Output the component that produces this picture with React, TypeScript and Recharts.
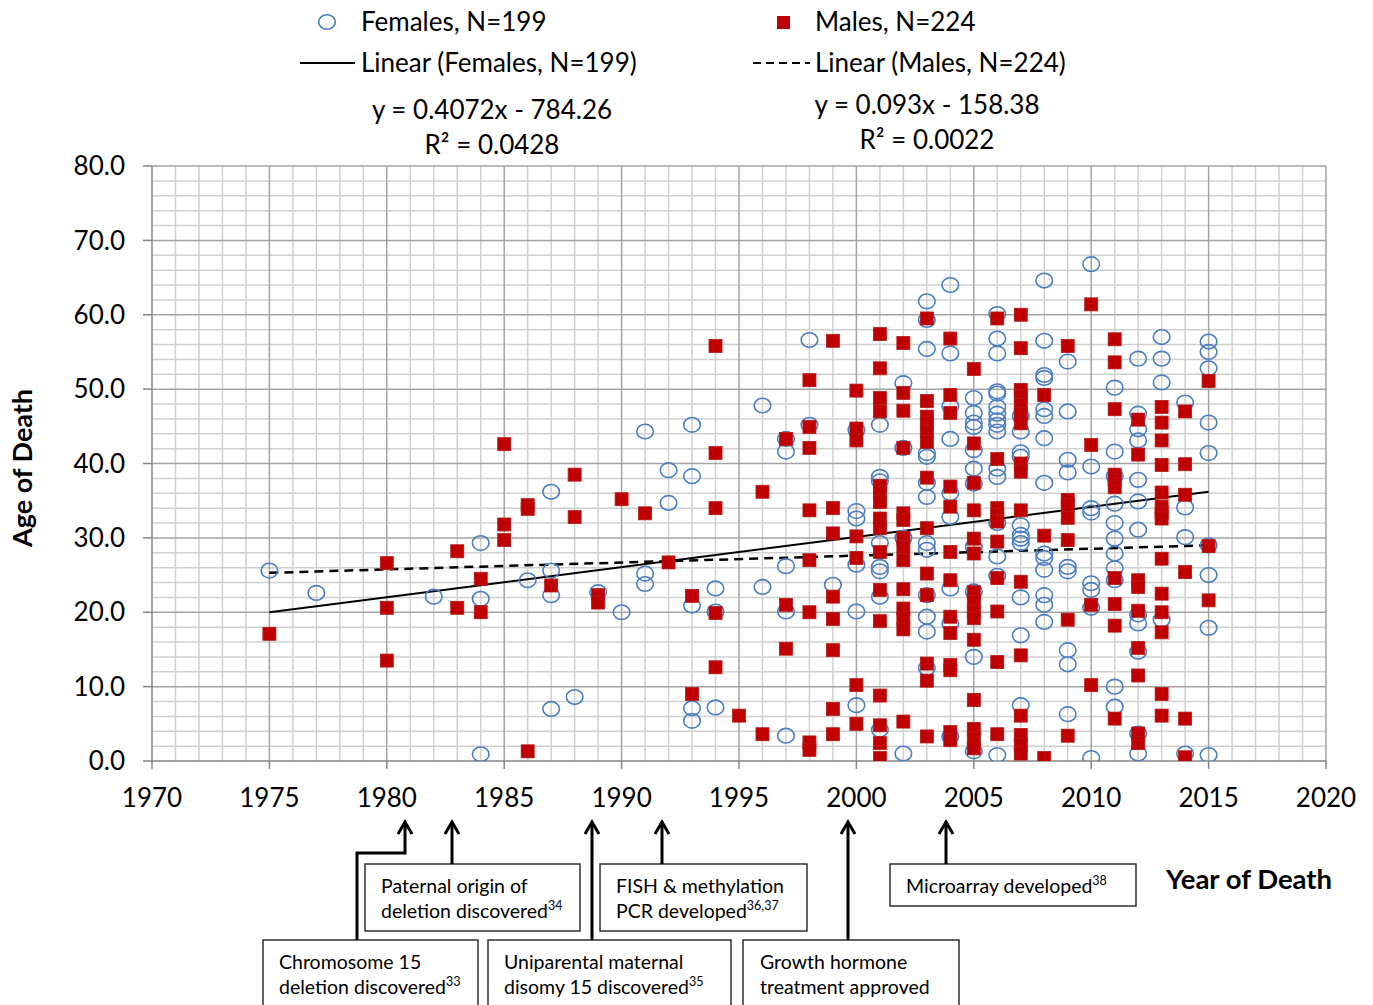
import React from 'react';
import { ScatterChart, Scatter, XAxis, YAxis, ReferenceLine } from 'recharts';

// ---------- data ----------
const xTicks = [1970, 1975, 1980, 1985, 1990, 1995, 2000, 2005, 2010, 2015, 2020];
const yTicks = [0, 10, 20, 30, 40, 50, 60, 70, 80];

const femaleAges: [number, number[]][] = [
  [1975, [25.6]],
  [1977, [22.6]],
  [1982, [22.1]],
  [1984, [29.3, 21.8, 0.9]],
  [1986, [24.3]],
  [1987, [36.2, 25.6, 22.3, 7.0]],
  [1988, [8.6]],
  [1989, [22.7]],
  [1990, [20.0]],
  [1991, [44.3, 25.2, 23.8]],
  [1992, [39.1, 34.7]],
  [1993, [45.2, 38.3, 20.9, 7.1, 5.4]],
  [1994, [23.2, 20.1, 7.2]],
  [1996, [47.8, 23.4]],
  [1997, [43.3, 41.6, 26.2, 20.1, 3.4]],
  [1998, [56.6, 45.2]],
  [1999, [23.7]],
  [2000, [44.5, 33.6, 32.6, 26.4, 20.1, 7.5]],
  [2001, [45.2, 38.2, 37.6, 29.3, 26.1, 25.5, 22.1, 4.2]],
  [2002, [50.8, 42.1, 30.0, 1.0]],
  [2003, [61.8, 59.3, 55.4, 41.4, 40.9, 37.4, 35.5, 29.3, 28.4, 22.3, 19.4, 17.4, 12.5]],
  [2004, [64.0, 54.8, 47.7, 43.3, 36.0, 32.8, 23.2, 18.5, 3.3]],
  [2005, [48.8, 46.8, 45.5, 44.9, 41.8, 39.3, 37.3, 28.8, 22.8, 14.0, 1.3]],
  [2006, [60.1, 56.8, 54.8, 49.7, 49.4, 47.6, 46.7, 45.8, 45.2, 44.3, 39.3, 38.2, 32.0, 27.5, 24.9, 0.8]],
  [2007, [46.4, 44.3, 41.5, 40.9, 31.7, 30.4, 29.9, 29.3, 22.0, 16.9, 7.5]],
  [2008, [64.6, 56.5, 51.9, 51.5, 47.3, 46.4, 43.4, 37.4, 27.9, 27.3, 25.7, 22.3, 21.0, 18.7]],
  [2009, [53.7, 47.0, 40.5, 38.8, 26.1, 25.5, 14.9, 13.0, 6.3]],
  [2010, [66.8, 39.6, 34.0, 33.4, 23.9, 23.0, 20.6, 0.4]],
  [2011, [50.2, 41.6, 38.3, 34.6, 32.0, 29.9, 27.9, 25.9, 24.3, 10.0, 7.3]],
  [2012, [54.1, 46.7, 44.6, 43.1, 37.8, 34.9, 31.1, 19.7, 18.5, 14.7, 3.7, 1.0]],
  [2013, [57.0, 54.1, 50.9, 19.0]],
  [2014, [48.2, 34.1, 30.1, 1.0]],
  [2015, [56.4, 55.0, 52.8, 45.5, 41.4, 29.0, 25.0, 17.9, 0.8]],
];

const maleAges: [number, number[]][] = [
  [1975, [17.1]],
  [1980, [26.6, 20.6, 13.5]],
  [1983, [28.2, 20.6]],
  [1984, [24.5, 20.0]],
  [1985, [42.6, 31.8, 29.7]],
  [1986, [34.4, 33.9, 1.3]],
  [1987, [23.6]],
  [1988, [38.5, 32.8]],
  [1989, [22.3, 21.3]],
  [1990, [35.2]],
  [1991, [33.3]],
  [1992, [26.7]],
  [1993, [22.2, 9.0]],
  [1994, [55.8, 41.4, 34.0, 19.9, 12.6]],
  [1995, [6.1]],
  [1996, [36.2, 3.6]],
  [1997, [43.3, 21.0, 15.1]],
  [1998, [51.2, 44.9, 42.1, 33.7, 27.0, 20.0, 2.5, 1.5]],
  [1999, [56.5, 34.0, 30.6, 22.1, 19.1, 14.9, 7.0, 3.6]],
  [2000, [49.8, 44.7, 43.1, 30.2, 27.3, 10.2, 5.0]],
  [2001, [57.4, 52.8, 48.8, 47.0, 37.0, 36.0, 34.8, 32.6, 31.3, 28.1, 23.0, 18.8, 8.8, 4.8, 2.4, 0.4]],
  [2002, [56.2, 49.5, 47.1, 42.1, 33.3, 32.4, 30.0, 28.8, 27.0, 23.1, 20.5, 19.2, 17.7, 5.3]],
  [2003, [59.5, 48.4, 46.3, 45.4, 44.3, 42.9, 38.1, 31.3, 25.2, 22.3, 13.1, 10.8, 3.3]],
  [2004, [56.8, 49.2, 46.8, 36.9, 34.2, 28.1, 24.3, 19.4, 17.2, 12.9, 12.2, 3.9, 2.8]],
  [2005, [52.7, 42.7, 37.4, 33.7, 29.9, 27.9, 22.7, 21.4, 20.1, 19.2, 16.3, 8.2, 4.3, 3.0, 1.7]],
  [2006, [59.5, 40.6, 34.0, 33.1, 32.2, 29.5, 24.6, 20.1, 13.3, 3.6]],
  [2007, [60.0, 55.5, 49.9, 49.0, 47.9, 46.7, 45.4, 40.0, 38.9, 33.7, 24.1, 14.2, 6.1, 3.5, 2.2, 1.0]],
  [2008, [49.2, 30.3, 0.4]],
  [2009, [55.8, 35.1, 34.4, 32.7, 29.7, 19.0, 3.4]],
  [2010, [61.4, 42.5, 21.0, 10.2]],
  [2011, [56.7, 53.6, 47.3, 38.5, 37.8, 36.8, 24.6, 21.1, 18.2, 5.7]],
  [2012, [45.9, 41.2, 24.3, 23.4, 20.2, 15.2, 11.5, 3.7, 2.4]],
  [2013, [47.6, 45.5, 43.1, 39.8, 36.1, 34.2, 33.4, 32.6, 27.2, 22.5, 20.0, 17.3, 9.0, 6.1]],
  [2014, [47.0, 39.9, 35.8, 25.4, 5.7, 0.5]],
  [2015, [51.1, 28.9, 21.6]],
];

// trend line end points
const femaleTrend = [{ x: 1975, y: 20.0 }, { x: 2015, y: 36.2 }];
const maleTrend = [{ x: 1975, y: 25.3 }, { x: 2015, y: 29.0 }];

// ---------- build ----------
const flatten = (rows: [number, number[]][]) =>
  rows.flatMap(([year, ages]) => ages.map((age) => ({ x: year, y: age })));
const females = flatten(femaleAges);
const males = flatten(maleAges);

const minorYears = Array.from({ length: 51 }, (_, i) => 1970 + i).filter((v) => v % 5 !== 0);
const minorAges = Array.from({ length: 41 }, (_, i) => i * 2).filter((v) => v % 10 !== 0);

const FONT = 'Lato, "Open Sans", sans-serif';
const BLUE = '#4a7fc1';
const RED = '#c00000';
const MINOR = '#d0d0d0';
const MAJOR = '#a3a3a3';

const CircleShape = (props: any) => {
  const { cx, cy } = props;
  if (cx == null || cy == null) return <g />;
  return <ellipse cx={cx} cy={cy} rx={8.3} ry={7.3} fill="none" stroke={BLUE} strokeWidth={1.6} />;
};
const SquareShape = (props: any) => {
  const { cx, cy } = props;
  if (cx == null || cy == null) return <g />;
  return <rect x={cx - 6.5} y={cy - 6.5} width={13} height={13} fill={RED} stroke="#b31818" strokeWidth={0.8} />;
};

const Sup = ({ children }: { children: string }) => (
  <tspan dy={-8} fontSize={12.5}>{children}</tspan>
);

const Arrow = ({ x, y }: { x: number; y: number }) => (
  <path d={`M ${x - 7} ${y + 12} L ${x} ${y} L ${x + 7} ${y + 12}`} fill="none" stroke="#000" strokeWidth={3} />
);

const Overlay = () => (
  <svg width={1373} height={1005} style={{ position: 'absolute', left: 0, top: 0, pointerEvents: 'none' }} fontFamily={FONT}>
    {/* legend */}
    <ellipse cx={327} cy={22} rx={8.3} ry={7.3} fill="none" stroke={BLUE} strokeWidth={1.6} />
    <text x={361} y={31} fontSize={26} fill="#000">Females, N=199</text>
    <rect x={777} y={16} width={13} height={13} fill={RED} />
    <text x={815} y={31} fontSize={26} fill="#000">Males, N=224</text>
    <line x1={300} y1={63} x2={355} y2={63} stroke="#000" strokeWidth={2} />
    <text x={361} y={72} fontSize={26} fill="#000">Linear (Females, N=199)</text>
    <line x1={753} y1={63} x2={810} y2={63} stroke="#000" strokeWidth={2.2} strokeDasharray="8 5" />
    <text x={815} y={72} fontSize={26} fill="#000">Linear (Males, N=224)</text>
    {/* equations */}
    <text x={492} y={119} fontSize={26} textAnchor="middle" fill="#000">y = 0.4072x - 784.26</text>
    <text x={492} y={154} fontSize={26} textAnchor="middle" fill="#000">R² = 0.0428</text>
    <text x={927} y={114} fontSize={26} textAnchor="middle" fill="#000">y = 0.093x - 158.38</text>
    <text x={927} y={149} fontSize={26} textAnchor="middle" fill="#000">R² = 0.0022</text>
    {/* axis titles */}
    <text x={0} y={0} transform="translate(32,468) rotate(-90)" fontSize={27} fontWeight="bold" textAnchor="middle" fill="#000">Age of Death</text>
    <text x={1166} y={889} fontSize={27.5} fontWeight="bold" fill="#000">Year of Death</text>
    {/* annotation boxes */}
    <g fill="#fff" stroke="#222" strokeWidth={1.4}>
      <rect x={365} y={864} width={215} height={67} />
      <rect x={600} y={864} width={207} height={67} />
      <rect x={890} y={864} width={246} height={42} />
      <rect x={263} y={940} width={215} height={80} />
      <rect x={488} y={940} width={243} height={80} />
      <rect x={743} y={940} width={216} height={80} />
    </g>
    <g fontSize={19.5} fill="#000">
      <text x={381} y={893}>Paternal origin of</text>
      <text x={381} y={918}>deletion discovered<Sup>34</Sup></text>
      <text x={616} y={893}>FISH &amp; methylation</text>
      <text x={616} y={918}>PCR developed<Sup>36,37</Sup></text>
      <text x={906} y={893}>Microarray developed<Sup>38</Sup></text>
      <text x={279} y={969}>Chromosome 15</text>
      <text x={279} y={994}>deletion discovered<Sup>33</Sup></text>
      <text x={504} y={969}>Uniparental maternal</text>
      <text x={504} y={994}>disomy 15 discovered<Sup>35</Sup></text>
      <text x={760} y={969}>Growth hormone</text>
      <text x={760} y={994}>treatment approved</text>
    </g>
    {/* arrows */}
    <g fill="none" stroke="#000" strokeWidth={3}>
      <polyline points="357,940 357,853 405,853 405,823" />
      <line x1={452} y1={864} x2={452} y2={823} />
      <line x1={592} y1={940} x2={592} y2={823} />
      <line x1={662} y1={864} x2={662} y2={823} />
      <line x1={848} y1={940} x2={848} y2={823} />
      <line x1={946} y1={864} x2={946} y2={823} />
    </g>
    <Arrow x={405} y={822} />
    <Arrow x={452} y={822} />
    <Arrow x={592} y={822} />
    <Arrow x={662} y={822} />
    <Arrow x={848} y={822} />
    <Arrow x={946} y={822} />
  </svg>
);

export default function App() {
  const tickStyle = { fontSize: 26, fill: '#000', fontFamily: FONT };
  return (
    <div style={{ position: 'absolute', left: 0, top: 0, width: 1373, height: 1005, background: '#fff', overflow: 'hidden' }}>
      <ScatterChart width={1373} height={1005} margin={{ top: 166, right: 47, bottom: 194, left: 72 }}>
        <XAxis
          type="number"
          dataKey="x"
          domain={[1970, 2020]}
          ticks={xTicks}
          height={50}
          tick={tickStyle}
          tickSize={8}
          tickMargin={20}
          tickLine={{ stroke: '#868686', strokeWidth: 1.5 }}
          axisLine={{ stroke: '#868686', strokeWidth: 1.5 }}
          allowDataOverflow
        />
        <YAxis
          type="number"
          dataKey="y"
          domain={[0, 80]}
          ticks={yTicks}
          width={80}
          tick={tickStyle}
          tickSize={9}
          tickMargin={18}
          tickFormatter={(v: number) => v.toFixed(1)}
          tickLine={{ stroke: '#868686', strokeWidth: 1.5 }}
          axisLine={{ stroke: '#868686', strokeWidth: 1.5 }}
          allowDataOverflow
        />
        {minorYears.map((v) => (
          <ReferenceLine key={'mx' + v} x={v} stroke={MINOR} strokeWidth={1.5} />
        ))}
        {minorAges.map((v) => (
          <ReferenceLine key={'my' + v} y={v} stroke={MINOR} strokeWidth={1.5} />
        ))}
        {xTicks.filter((v) => v !== 1970).map((v) => (
          <ReferenceLine key={'Mx' + v} x={v} stroke={MAJOR} strokeWidth={1.5} />
        ))}
        {yTicks.filter((v) => v !== 0).map((v) => (
          <ReferenceLine key={'My' + v} y={v} stroke={MAJOR} strokeWidth={1.5} />
        ))}
        <Scatter name="Females, N=199" data={females} shape={CircleShape} isAnimationActive={false} />
        <Scatter name="Males, N=224" data={males} shape={SquareShape} isAnimationActive={false} />
        <ReferenceLine
          segment={[femaleTrend[0], femaleTrend[1]]}
          stroke="#000"
          strokeWidth={2}
        />
        <ReferenceLine
          segment={[maleTrend[0], maleTrend[1]]}
          stroke="#000"
          strokeWidth={2.5}
          strokeDasharray="9 6"
        />
      </ScatterChart>
      <Overlay />
    </div>
  );
}
